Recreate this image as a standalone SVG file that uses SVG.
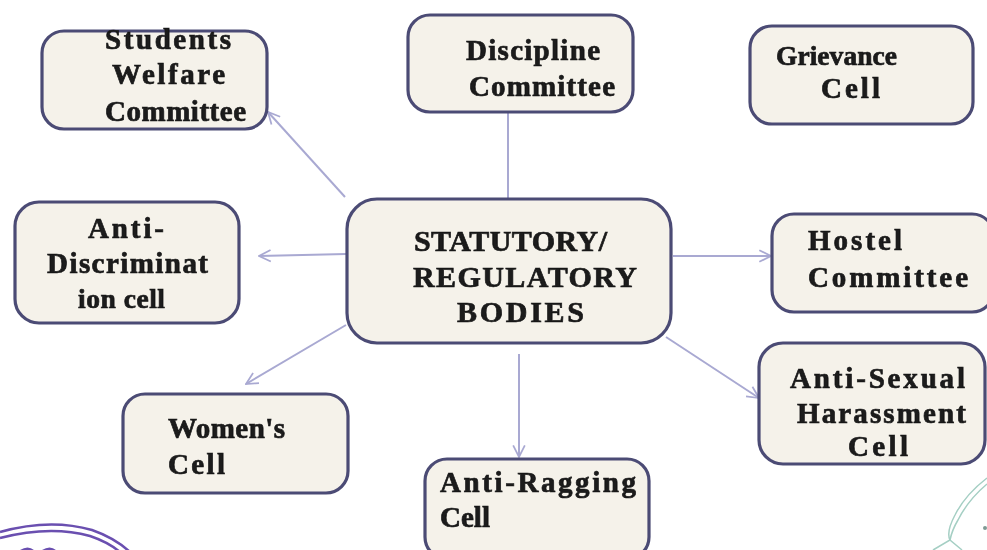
<svg xmlns="http://www.w3.org/2000/svg" width="987" height="550" viewBox="0 0 987 550">
<style>
.box{fill:#f5f2ea;stroke:#4c4b74;stroke-width:3.2}
.t{font-family:"Liberation Serif","Times New Roman",serif;font-weight:700;font-size:29px;fill:#1a1a1a;stroke:#1a1a1a;stroke-width:.7}
.big{font-size:30px}
.sm{font-size:27.5px}
.c{fill:none;stroke:#a9a9d2;stroke-width:2}
.s1{fill:none;stroke:#6a4fb0;stroke-width:2.5}
.s2{fill:none;stroke:#a5cfc4;stroke-width:1.5}
</style>
<defs>
<marker id="a" viewBox="0 0 12 12" refX="11" refY="6" markerWidth="14" markerHeight="14" markerUnits="userSpaceOnUse" orient="auto"><path d="M1 1L11 6L1 11" fill="none" stroke="#a9a9d2" stroke-width="1.5"/></marker>
<filter id="b" x="-5%" y="-5%" width="110%" height="110%"><feGaussianBlur stdDeviation="0.6"/></filter>
</defs>
<rect width="987" height="550" fill="#fff"/>
<g filter="url(#b)">
<g id="connectors">
<path class="c" d="M345 197L268 112" marker-end="url(#a)"/>
<path class="c" d="M508 198V113"/>
<path class="c" d="M346 254L259 256" marker-end="url(#a)"/>
<path class="c" d="M673 256H771" marker-end="url(#a)"/>
<path class="c" d="M346 325L246 384" marker-end="url(#a)"/>
<path class="c" d="M519 354V457" marker-end="url(#a)"/>
<path class="c" d="M666 337L759 398" marker-end="url(#a)"/>
</g>
<g id="students"><rect class="box" x="42" y="31" width="225" height="98" rx="22"/><text class="t" x="105" y="49" textLength="126">Students</text><text class="t" x="112" y="84" textLength="113">Welfare</text><text class="t" x="105" y="121" textLength="141">Committee</text></g>
<g id="discipline"><rect class="box" x="408" y="15" width="225" height="97" rx="22"/><text class="t" x="466" y="60" textLength="134">Discipline</text><text class="t" x="469" y="96" textLength="146">Committee</text></g>
<g id="grievance"><rect class="box" x="750" y="26" width="223" height="98" rx="22"/><text class="t sm" x="776" y="65" textLength="121">Grievance</text><text class="t" x="821" y="98" textLength="59">Cell</text></g>
<g id="antidisc"><rect class="box" x="15" y="202" width="224" height="121" rx="24"/><text class="t" x="88" y="238" textLength="76">Anti-</text><text class="t" x="47" y="273" textLength="161">Discriminat</text><text class="t sm" x="78" y="308" textLength="87">ion cell</text></g>
<g id="central"><rect class="box" x="347" y="199" width="324" height="144" rx="30"/><text class="t big" x="414" y="251" textLength="193">STATUTORY/</text><text class="t big" x="413" y="287" textLength="224">REGULATORY</text><text class="t big" x="457" y="322" textLength="127">BODIES</text></g>
<g id="hostel"><rect class="box" x="772" y="214" width="222" height="98" rx="22"/><text class="t" x="808" y="250" textLength="94">Hostel</text><text class="t" x="808" y="287" textLength="160">Committee</text></g>
<g id="antisexual"><rect class="box" x="759" y="343" width="226" height="121" rx="24"/><text class="t" x="790" y="388" textLength="175">Anti-Sexual</text><text class="t" x="797" y="423" textLength="169">Harassment</text><text class="t" x="848" y="456" textLength="60">Cell</text></g>
<g id="womens"><rect class="box" x="123" y="394" width="225" height="99" rx="22"/><text class="t" x="168" y="438" textLength="117">Women's</text><text class="t" x="168" y="474" textLength="57">Cell</text></g>
<g id="antiragging"><rect class="box" x="425" y="459" width="224" height="100" rx="22"/><text class="t" x="440" y="492" textLength="196">Anti-Ragging</text><text class="t" x="440" y="527" textLength="50">Cell</text></g>
<g id="stamp-left"><path class="s1" d="M0 532Q50 518 92 530Q115 538 130 552"/><path class="s1" d="M0 538Q50 525 90 536Q108 542 120 552"/><path d="M20 550Q28 545 34 550ZM42 550Q50 545 56 550Z" fill="#6a4fb0"/></g>
<g id="stamp-right"><path class="s2" d="M987 478Q965 495 955 515Q946 532 950 540L962 550"/><path class="s2" d="M987 484Q968 500 958 520Q952 530 950 540L933 550"/><circle cx="985" cy="528" r="2" fill="#7f9a94"/></g>
</g>
</svg>
